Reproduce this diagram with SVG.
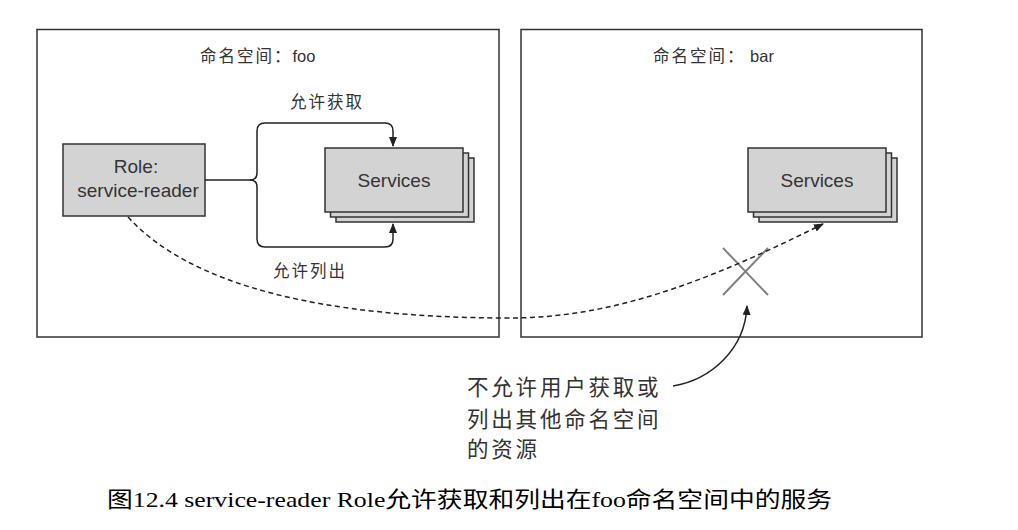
<svg xmlns="http://www.w3.org/2000/svg" width="1018" height="530" viewBox="0 0 1018 530">
<style>
.frame{fill:#fff;stroke:#333;stroke-width:1.5}
.box{fill:#d3d3d3;stroke:#333;stroke-width:1.5}
.line{fill:none;stroke:#222;stroke-width:1.5}
.dash{fill:none;stroke:#222;stroke-width:1.5;stroke-dasharray:5,3.5}
.t{font-family:"Liberation Sans","Noto Sans CJK SC",sans-serif;fill:#333}
.cjk{font-family:"Noto Sans CJK SC","Liberation Sans",sans-serif;fill:#333}
.lat{font-family:"Liberation Sans",sans-serif;letter-spacing:0}
</style>
<defs>
<marker id="ah" markerWidth="10" markerHeight="8" refX="9" refY="4" orient="auto" markerUnits="userSpaceOnUse">
<path d="M0,0 L10,4 L0,8 Z" fill="#222"/>
</marker>
</defs>
<rect width="1018" height="530" fill="#fff"/>

<g id="ns-foo">
<rect class="frame" x="37" y="29.5" width="462" height="307.5"/>
<text class="cjk" x="200" y="62" font-size="16.5" letter-spacing="2">命名空间：<tspan class="lat">foo</tspan></text>
</g>
<g id="ns-bar">
<rect class="frame" x="521" y="29.5" width="401" height="307.5"/>
<text class="cjk" x="653" y="62" font-size="16.5" letter-spacing="2">命名空间：<tspan class="lat"> bar</tspan></text>
</g>

<g id="role">
<rect class="box" x="63" y="144" width="142" height="72"/>
<text class="t" x="136" y="173" font-size="19" text-anchor="middle">Role:</text>
<text class="t" x="138" y="197" font-size="19" text-anchor="middle">service-reader</text>
</g>

<g id="services-foo">
<rect class="box" x="336" y="158" width="138" height="64"/>
<rect class="box" x="330.5" y="153" width="138" height="64"/>
<rect class="box" x="325" y="148" width="138" height="64"/>
<text class="t" x="394" y="187" font-size="19" text-anchor="middle">Services</text>
</g>

<g id="services-bar">
<rect class="box" x="759" y="158" width="138" height="64"/>
<rect class="box" x="753.5" y="153" width="138" height="64"/>
<rect class="box" x="748" y="148" width="138" height="64"/>
<text class="t" x="817" y="187" font-size="19" text-anchor="middle">Services</text>
</g>

<g id="deny-mark">
<line x1="723" y1="248" x2="768" y2="295" stroke="#808080" stroke-width="2"/>
<line x1="768" y1="248" x2="723" y2="295" stroke="#808080" stroke-width="2"/>
</g>

<g id="connectors">
<path class="line" d="M205,180 L250,180 Q257,180 257,173 L257,131 Q257,123 265,123 L385,123 Q393,123 393,131 L393,146" marker-end="url(#ah)"/>
<path class="line" d="M250,180 Q257,180 257,187 L257,239 Q257,247 265,247 L385,247 Q393,247 393,239 L393,224" marker-end="url(#ah)"/>
<path class="dash" d="M128,217 C190,285 320,318 510,318 C620,318 720,275 823,224" marker-end="url(#ah)"/>
<path class="line" d="M673,386 C710,380 745,350 747,306" marker-end="url(#ah)"/>
</g>

<g id="labels">
<text class="cjk" x="290" y="108" font-size="16.5" letter-spacing="2">允许获取</text>
<text class="cjk" x="273" y="277" font-size="16.5" letter-spacing="2">允许列出</text>
<text class="cjk" x="467" y="395" font-size="21.5" letter-spacing="2.8">不允许用户获取或</text>
<text class="cjk" x="467" y="427" font-size="21.5" letter-spacing="2.8">列出其他命名空间</text>
<text class="cjk" x="467" y="457" font-size="21.5" letter-spacing="2.8">的资源</text>
</g>

<text x="107" y="507" font-size="22" textLength="725" lengthAdjust="spacingAndGlyphs" font-family="'Liberation Serif','Noto Sans CJK SC',serif" fill="#000">图12.4 service-reader Role允许获取和列出在foo命名空间中的服务</text>
</svg>
